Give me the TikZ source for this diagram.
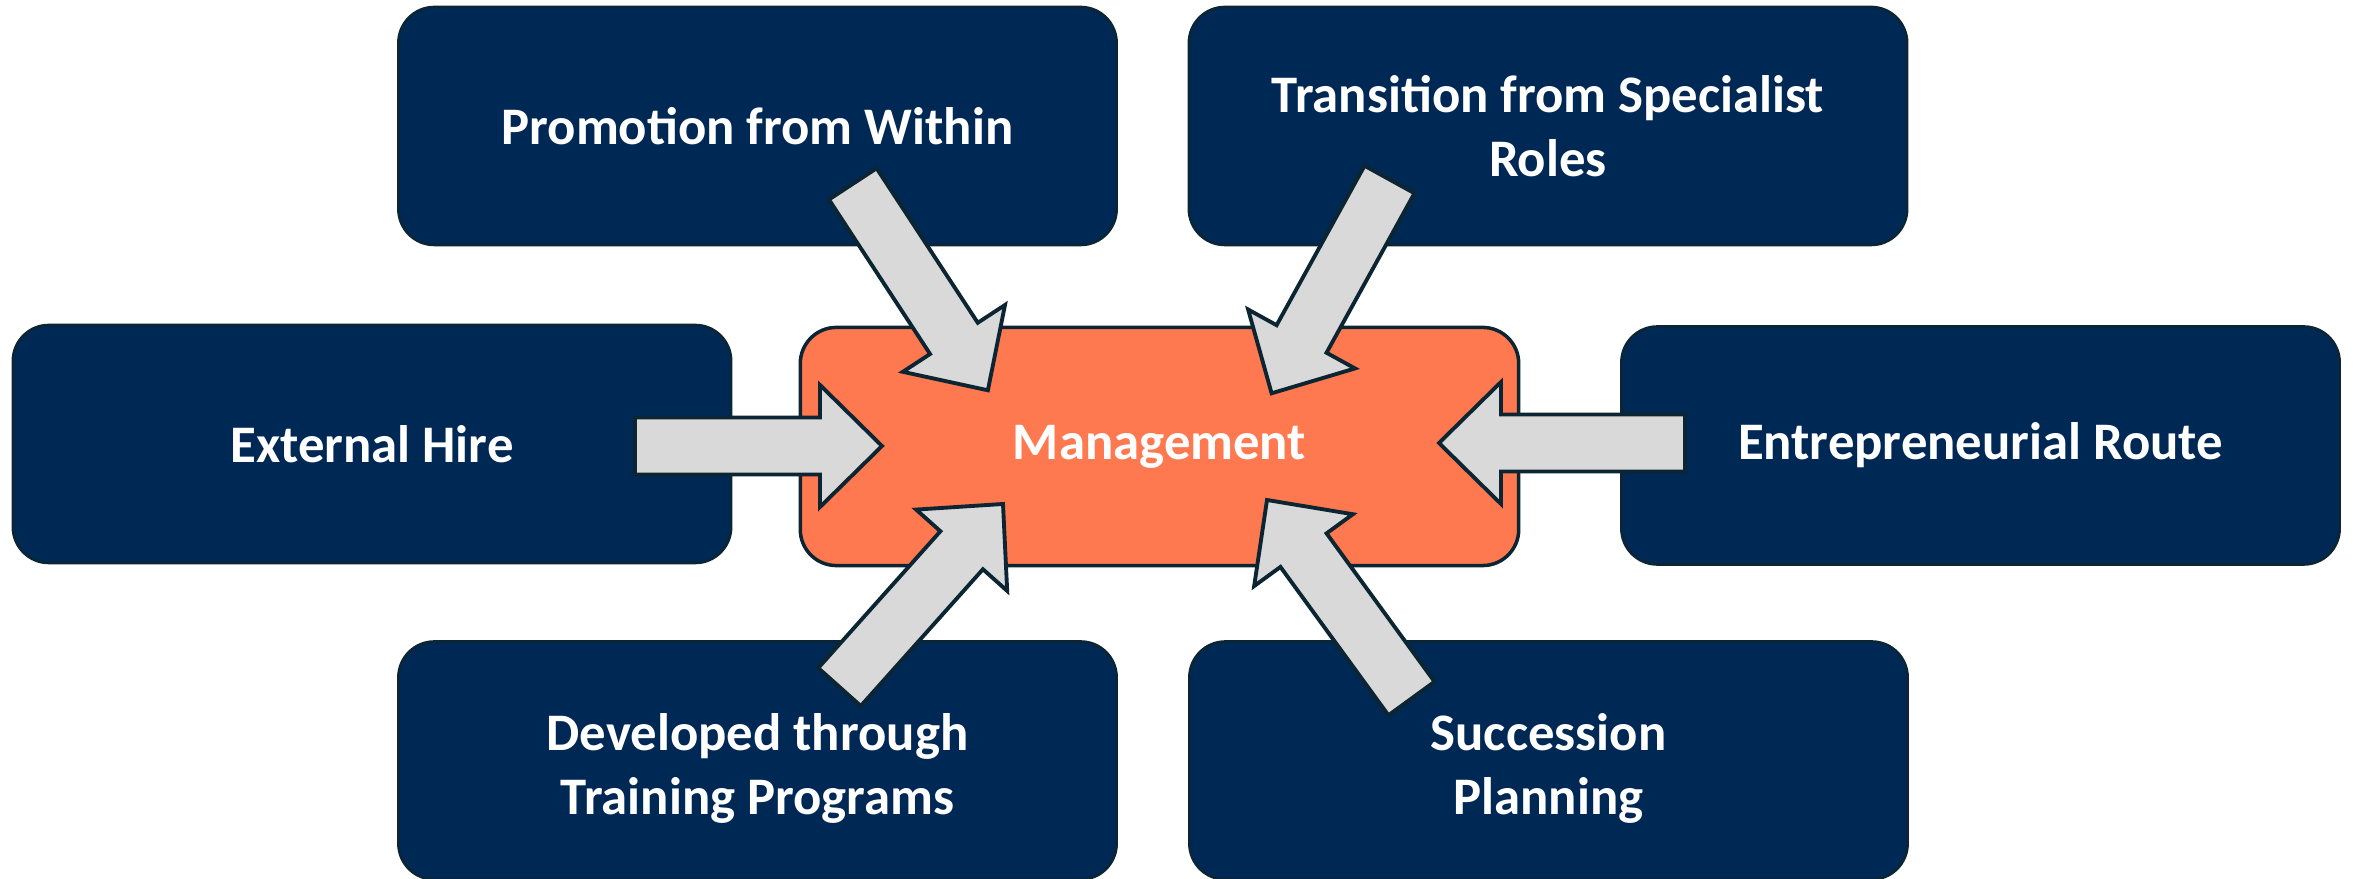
\documentclass[tikz,border=0pt]{standalone}
\usepackage{fontspec}
\setmainfont{Carlito}
\usetikzlibrary{calc}

\definecolor{navy}{RGB}{0,40,85}
\definecolor{coral}{RGB}{255,121,80}
\definecolor{edge}{RGB}{12,37,51}
\definecolor{arrowgray}{RGB}{217,217,217}

\begin{document}
\begin{tikzpicture}[x=0.01cm,y=0.01cm,line width=0.7pt,
	box/.style={draw=edge,fill=navy,rounded corners=0.36cm,minimum width=7.18cm,minimum height=2.38cm,inner sep=0pt,align=center,text=white,font=\fontsize{15}{18.3}\selectfont\bfseries},
	hub/.style={box,fill=coral,line width=1pt},
	blockarrow/.style={draw=edge,fill=arrowgray,line width=1.1pt,line join=miter}]
\useasboundingbox (0,0) rectangle (2354,879);

%outer boxes
\node[box] (promo) at (757.5,753) {Promotion from Within};
\node[box] (trans) at (1548,753) {Transition from Specialist\\Roles};
\node[box] (ext) at (372,435) {External Hire};
\node[box] (entre) at (1980.5,433.5) {Entrepreneurial Route};
%text sits a bit low in these two
\node[box] (dev) at (757.5,118.5) {\raisebox{-0.09cm}[\height][\depth]{\begin{tabular}{@{}c@{}}Developed through\\Training Programs\end{tabular}}};
\node[box] (succ) at (1548.5,118.5) {\raisebox{-0.09cm}[\height][\depth]{\begin{tabular}{@{}c@{}}Succession\\Planning\end{tabular}}};

%centre
\node[hub] (mgmt) at (1159.5,432.5) {Management};

%arrow ends
\coordinate (promo-s) at (852.75,695.1);
\coordinate (promo-e) at (987.9,488.7);
\coordinate (trans-s) at (1389.5,699.5);
\coordinate (trans-e) at (1271.6,485.7);
\coordinate (ext-s) at (635,433);
\coordinate (ext-e) at (882,433);
\coordinate (entre-s) at (1685,436);
\coordinate (entre-e) at (1439,436);
\coordinate (dev-s) at (839.5,192);
\coordinate (dev-e) at (1003,375);
\coordinate (succ-s) at (1411.5,180.5);
\coordinate (succ-e) at (1267,379);

%arrows
\foreach \s in {promo,trans,ext,entre,dev,succ}{
	\coordinate (h) at ($(\s-e)!0.62cm!(\s-s)$);
	\draw[blockarrow] ($(\s-s)!0.285cm!90:(\s-e)$)--($(h)!0.285cm!90:(\s-e)$)--($(h)!0.61cm!90:(\s-e)$)--(\s-e)
		--($(h)!0.61cm!-90:(\s-e)$)--($(h)!0.285cm!-90:(\s-e)$)--($(\s-s)!0.285cm!-90:(\s-e)$)--cycle;
}

\end{tikzpicture}
\end{document}
